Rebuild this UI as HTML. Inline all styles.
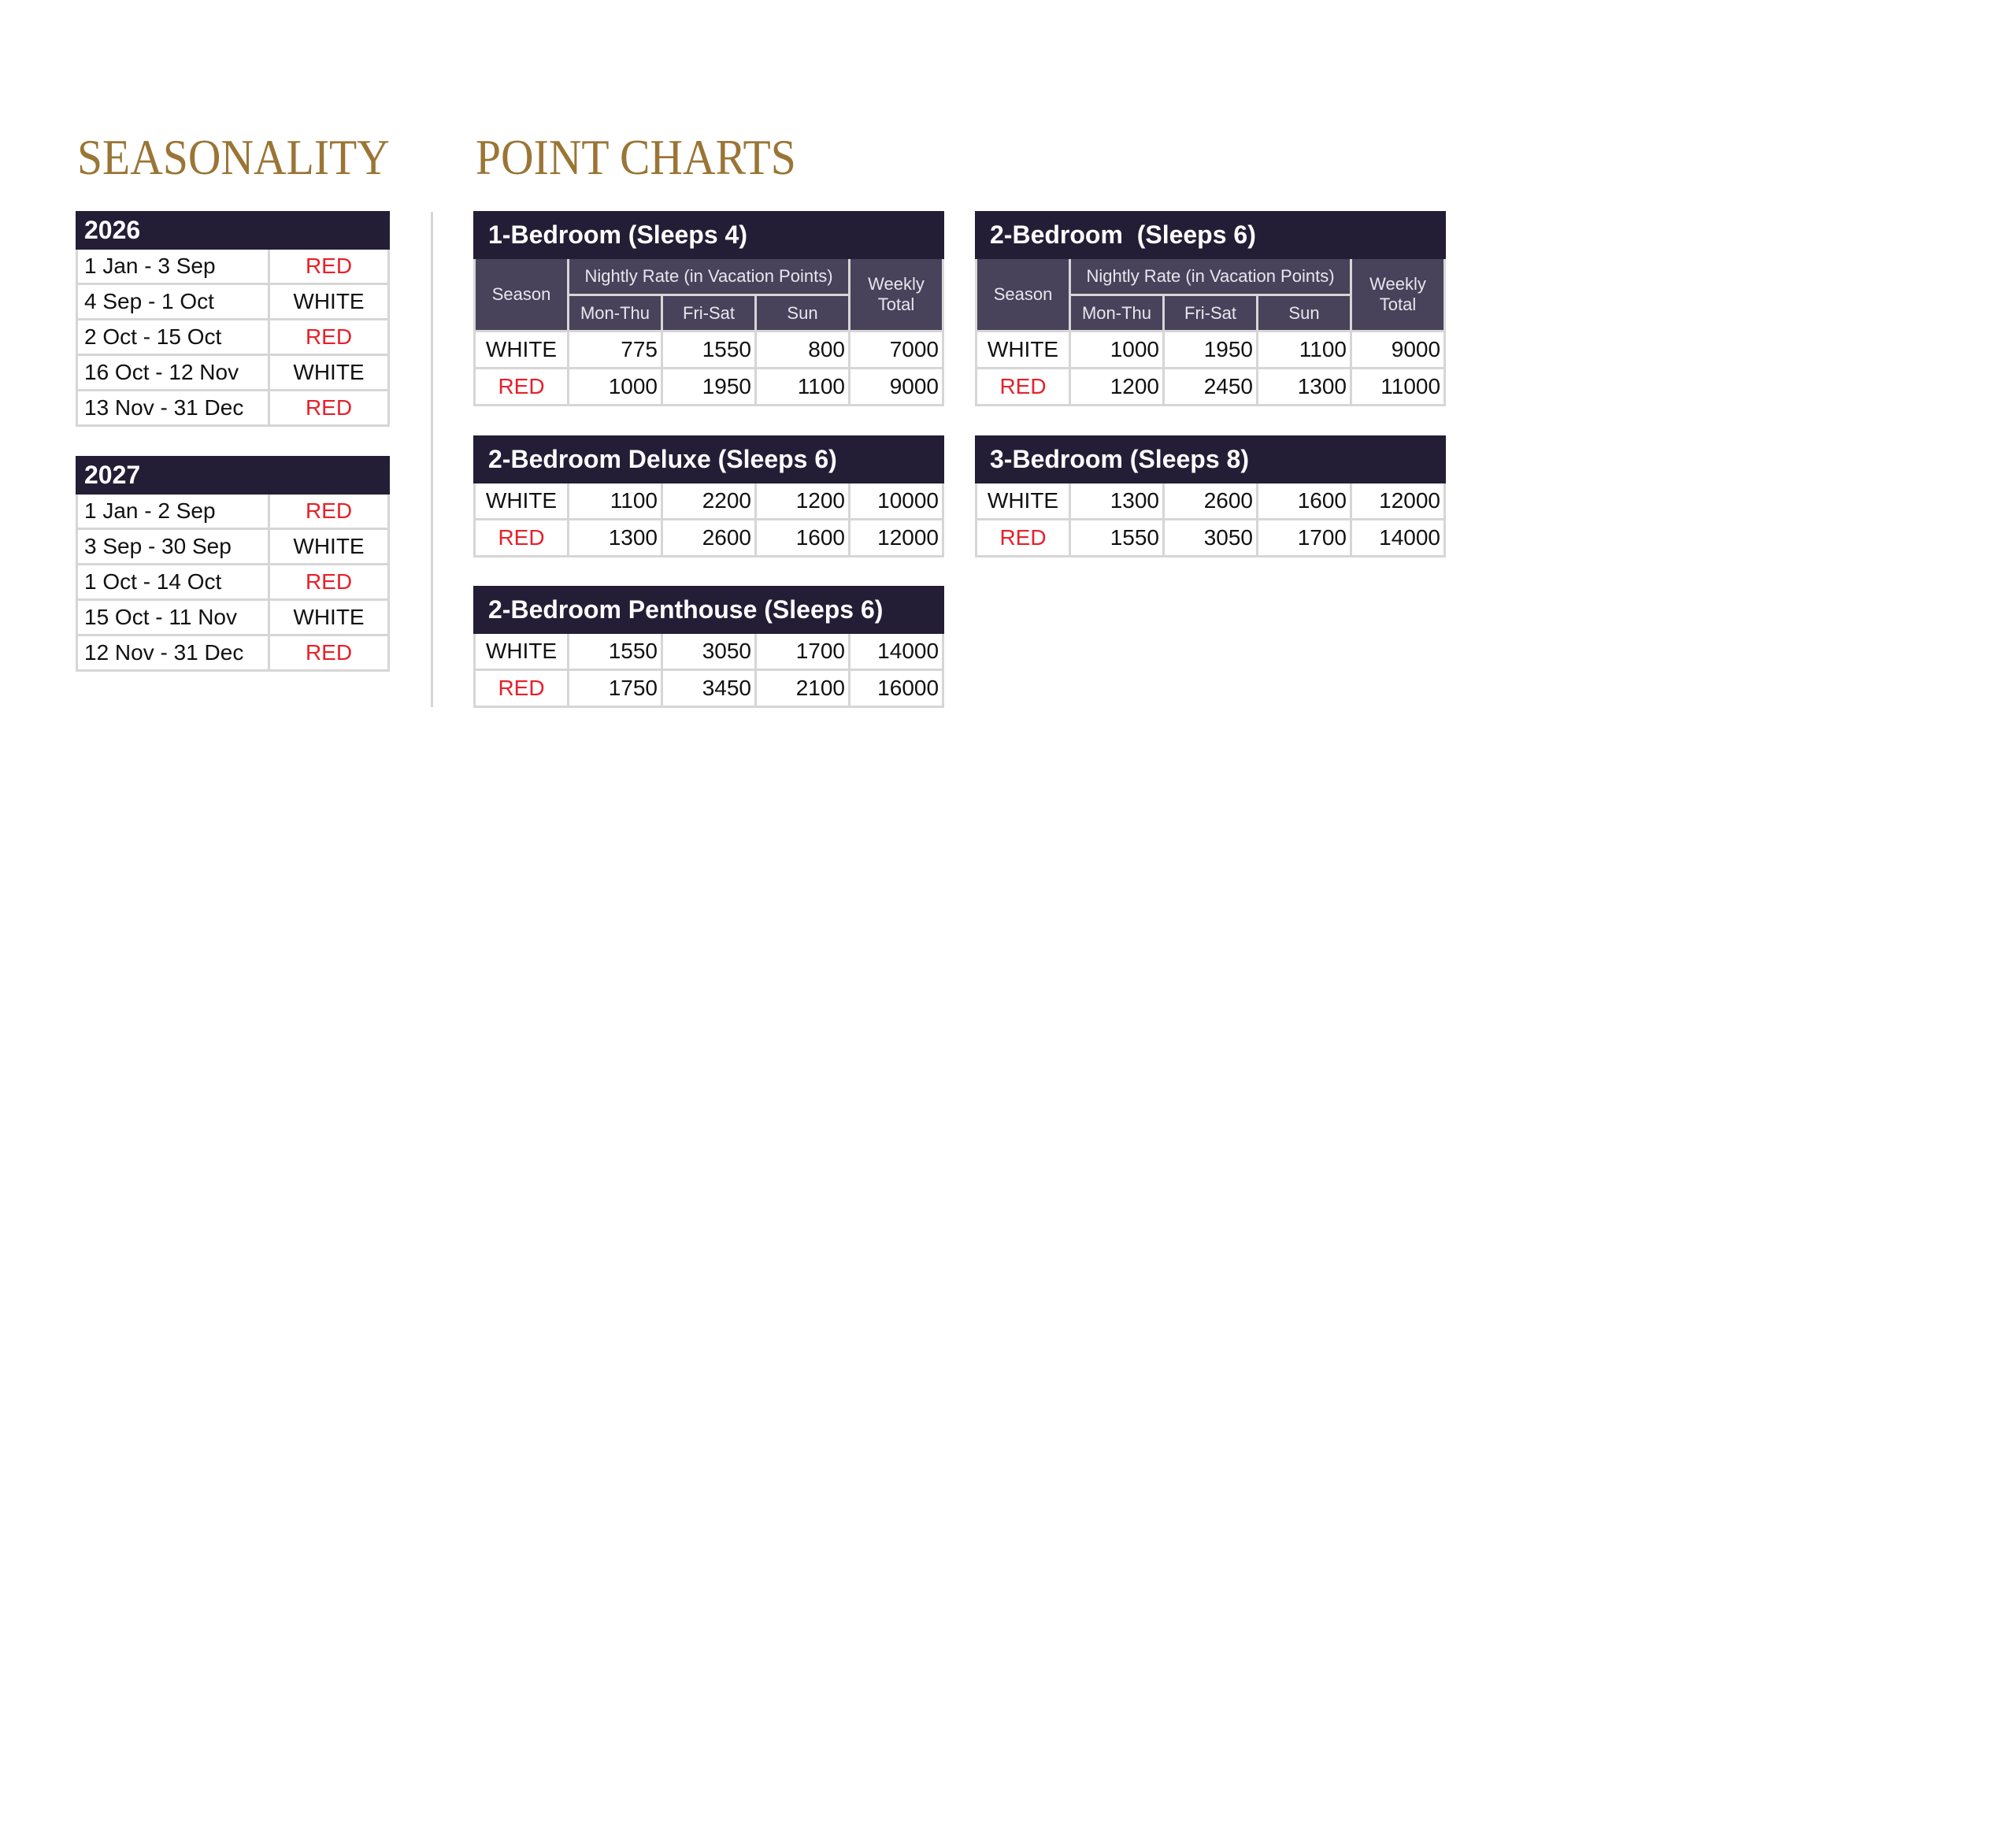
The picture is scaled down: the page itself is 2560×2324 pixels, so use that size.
<!DOCTYPE html>
<html><head><meta charset="utf-8"><style>
body{margin:0;width:2560px;height:2324px;background:#fff;position:relative;font-family:"Liberation Sans",sans-serif;overflow:hidden}
.h{position:absolute;font-family:"Liberation Serif",serif;color:#9a7535;font-size:64px;letter-spacing:0;line-height:1;top:168px;transform:scaleX(0.9);transform-origin:0 0;white-space:nowrap}
table{position:absolute;border-collapse:collapse;table-layout:fixed}
td{border:3px solid #d6d6d6;padding:0;font-size:28px;color:#111;white-space:nowrap;overflow:hidden}
.bar td{background:#231e36;color:#fff;font-weight:bold;font-size:32px;border:3px solid #231e36;text-align:left}
.sub td{background:#48425a;color:#e8e6ee;font-size:22px;text-align:center;border:3px solid #d6d6d6}
.r{color:#e8202a}
.c{text-align:center}
.n{text-align:right;padding-right:4px}
.l{padding-left:8px}
.div{position:absolute;left:547px;top:269px;width:3px;height:629px;background:#d6d6d6}
</style></head><body>
<div class="h" style="left:98px">SEASONALITY</div>
<div class="h" style="left:604px">POINT CHARTS</div>
<div class="div"></div>

<table style="left:96px;top:268px;width:396px">
<col style="width:244px"><col style="width:152px">
<tr class="bar" style="height:46px"><td colspan="2" style="padding-left:8px">2026</td></tr>
<tr style="height:45px"><td class="l">1 Jan - 3 Sep</td><td class="c r">RED</td></tr>
<tr style="height:45px"><td class="l">4 Sep - 1 Oct</td><td class="c">WHITE</td></tr>
<tr style="height:45px"><td class="l">2 Oct - 15 Oct</td><td class="c r">RED</td></tr>
<tr style="height:45px"><td class="l">16 Oct - 12 Nov</td><td class="c">WHITE</td></tr>
<tr style="height:45px"><td class="l">13 Nov - 31 Dec</td><td class="c r">RED</td></tr>
</table>

<table style="left:96px;top:579px;width:396px">
<col style="width:244px"><col style="width:152px">
<tr class="bar" style="height:46px"><td colspan="2" style="padding-left:8px">2027</td></tr>
<tr style="height:45px"><td class="l">1 Jan - 2 Sep</td><td class="c r">RED</td></tr>
<tr style="height:45px"><td class="l">3 Sep - 30 Sep</td><td class="c">WHITE</td></tr>
<tr style="height:45px"><td class="l">1 Oct - 14 Oct</td><td class="c r">RED</td></tr>
<tr style="height:45px"><td class="l">15 Oct - 11 Nov</td><td class="c">WHITE</td></tr>
<tr style="height:45px"><td class="l">12 Nov - 31 Dec</td><td class="c r">RED</td></tr>
</table>

<table style="left:601px;top:268px;width:595px">
<col style="width:119px"><col style="width:119px"><col style="width:119px"><col style="width:119px"><col style="width:119px">
<tr class="bar" style="height:58px"><td colspan="5" style="padding-left:16px">1-Bedroom (Sleeps 4)</td></tr>
<tr class="sub" style="height:47px"><td rowspan="2">Season</td><td colspan="3">Nightly Rate (in Vacation Points)</td><td rowspan="2" style="line-height:26px">Weekly<br>Total</td></tr>
<tr class="sub" style="height:46px"><td>Mon-Thu</td><td>Fri-Sat</td><td>Sun</td></tr>
<tr style="height:47px"><td class="c">WHITE</td><td class="n">775</td><td class="n">1550</td><td class="n">800</td><td class="n">7000</td></tr>
<tr style="height:47px"><td class="c r">RED</td><td class="n">1000</td><td class="n">1950</td><td class="n">1100</td><td class="n">9000</td></tr>
</table>

<table style="left:1238px;top:268px;width:595px">
<col style="width:119px"><col style="width:119px"><col style="width:119px"><col style="width:119px"><col style="width:119px">
<tr class="bar" style="height:58px"><td colspan="5" style="padding-left:16px">2-Bedroom&nbsp; (Sleeps 6)</td></tr>
<tr class="sub" style="height:47px"><td rowspan="2">Season</td><td colspan="3">Nightly Rate (in Vacation Points)</td><td rowspan="2" style="line-height:26px">Weekly<br>Total</td></tr>
<tr class="sub" style="height:46px"><td>Mon-Thu</td><td>Fri-Sat</td><td>Sun</td></tr>
<tr style="height:47px"><td class="c">WHITE</td><td class="n">1000</td><td class="n">1950</td><td class="n">1100</td><td class="n">9000</td></tr>
<tr style="height:47px"><td class="c r">RED</td><td class="n">1200</td><td class="n">2450</td><td class="n">1300</td><td class="n">11000</td></tr>
</table>

<table style="left:601px;top:553px;width:595px">
<col style="width:119px"><col style="width:119px"><col style="width:119px"><col style="width:119px"><col style="width:119px">
<tr class="bar" style="height:58px"><td colspan="5" style="padding-left:16px">2-Bedroom Deluxe (Sleeps 6)</td></tr>
<tr style="height:47px"><td class="c">WHITE</td><td class="n">1100</td><td class="n">2200</td><td class="n">1200</td><td class="n">10000</td></tr>
<tr style="height:47px"><td class="c r">RED</td><td class="n">1300</td><td class="n">2600</td><td class="n">1600</td><td class="n">12000</td></tr>
</table>

<table style="left:1238px;top:553px;width:595px">
<col style="width:119px"><col style="width:119px"><col style="width:119px"><col style="width:119px"><col style="width:119px">
<tr class="bar" style="height:58px"><td colspan="5" style="padding-left:16px">3-Bedroom (Sleeps 8)</td></tr>
<tr style="height:47px"><td class="c">WHITE</td><td class="n">1300</td><td class="n">2600</td><td class="n">1600</td><td class="n">12000</td></tr>
<tr style="height:47px"><td class="c r">RED</td><td class="n">1550</td><td class="n">3050</td><td class="n">1700</td><td class="n">14000</td></tr>
</table>

<table style="left:601px;top:744px;width:595px">
<col style="width:119px"><col style="width:119px"><col style="width:119px"><col style="width:119px"><col style="width:119px">
<tr class="bar" style="height:58px"><td colspan="5" style="padding-left:16px">2-Bedroom Penthouse (Sleeps 6)</td></tr>
<tr style="height:47px"><td class="c">WHITE</td><td class="n">1550</td><td class="n">3050</td><td class="n">1700</td><td class="n">14000</td></tr>
<tr style="height:47px"><td class="c r">RED</td><td class="n">1750</td><td class="n">3450</td><td class="n">2100</td><td class="n">16000</td></tr>
</table>
</body></html>
